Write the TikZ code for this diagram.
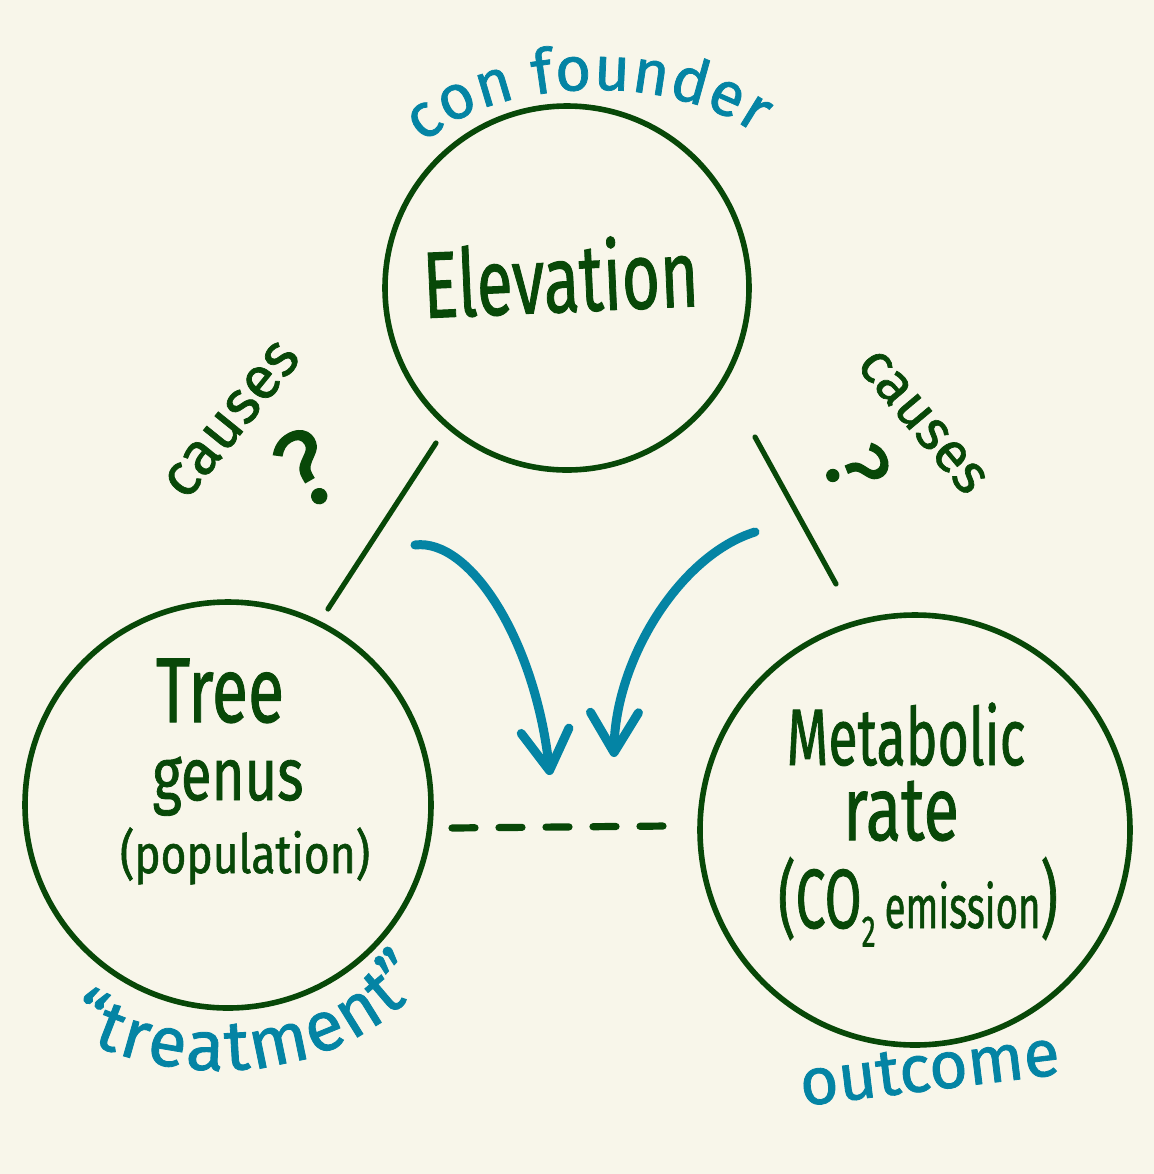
\documentclass[tikz,border=0pt]{standalone}
\usepackage{fontspec}
\setmainfont{Fira Sans}[FakeBold=1.2]
\usepackage{graphicx}
\usetikzlibrary{arrows.meta,decorations.text}
\definecolor{bgc}{RGB}{248,246,234}
\definecolor{hgreen}{RGB}{8,72,8}
\definecolor{hblue}{RGB}{4,132,164}
\tikzset{
 ring/.style={circle, draw=hgreen, line width=2.8pt, inner sep=0pt},
 gtext/.style={text=hgreen, inner sep=0pt, anchor=base},
 btext/.style={text=hblue, inner sep=0pt, anchor=base},
 link/.style={draw=hgreen, line width=2.6pt, line cap=round},
 dashlink/.style={draw=hgreen, line width=3.6pt, line cap=round, dash pattern=on 11.5pt off 12pt},
 bluearrow/.style={draw=hblue, line width=4.5pt, line cap=round, line join=round, -{Straight Barb[length=20pt,width=24pt,round]}},
}
\begin{document}
\begin{tikzpicture}[x=0.5pt,y=-0.5pt]
\fill[bgc] (0,0) rectangle (1154,1174);
\useasboundingbox (0,0) rectangle (1154,1174);

% circles
\node[ring, minimum size=182pt] (elev) at (567,288) {};
\node[ring, minimum size=203pt] (tree) at (228,805) {};
\node[ring, minimum size=215pt] (meta) at (915,830) {};

% labels in circles
\node[gtext, rotate=2.5, xscale=0.7, font=\fontsize{47}{50}\selectfont] (elevlbl) at (562,312) {Elevation};
\node[gtext, xscale=0.72, font=\fontsize{46}{50}\selectfont] (treel1) at (220,722) {Tree};
\node[gtext, xscale=0.76, font=\fontsize{37}{40}\selectfont] (treel2) at (228,800) {genus};
\node[gtext, xscale=0.82, font=\fontsize{27}{30}\selectfont] (treel3) at (245,873) {(population)};
\node[gtext, xscale=0.67, font=\fontsize{40}{44}\selectfont] (metal1) at (906,765) {Metabolic};
\node[gtext, xscale=0.72, font=\fontsize{45}{48}\selectfont] (metal2) at (901,840) {rate};
\node[gtext, xscale=0.64, font=\fontsize{42}{46}\selectfont] (metal3) at (918,928) {(CO\raisebox{-0.22em}{\fontsize{22}{24}\selectfont 2}\,{\fontsize{30}{34}\selectfont emission})};

% side annotations
\node[gtext, anchor=center, rotate=51, font=\fontsize{30}{34}\selectfont] (cause1) at (232,420) {causes};
\node[gtext, anchor=center, rotate=30, font=\fontsize{54}{58}\selectfont] (q1) at (306,468) {?};
\node[gtext, anchor=center, rotate=-50, font=\fontsize{28}{32}\selectfont] (cause2) at (922,422) {causes};
\node[gtext, anchor=center, rotate=-68, font=\fontsize{44}{48}\selectfont] (q2) at (857,468) {?};

% blue annotations
\node[btext, rotate=7, font=\fontsize{33}{36}\selectfont] (outc) at (932,1090) {outcome};
\path[decorate, decoration={text along path, text align=fit to path,
  text={|\fontsize{31}{36}\selectfont\color{hblue}|con founder}}]
  (424,144) .. controls (485,82) and (660,66) .. (756,134);
\path[decorate, decoration={text along path, text align=fit to path,
  text={|\fontsize{35}{38}\selectfont\color{hblue}|“treatment”}}]
  (64,1030) .. controls (170,1092) and (340,1088) .. (428,978);

% connectors
\coordinate (l1a) at (436,443);
\coordinate (l1b) at (328,609);
\coordinate (l2a) at (755,437);
\coordinate (l2b) at (836,584);
\draw[link] (l1a) -- (l1b);
\draw[link] (l2a) -- (l2b);
\coordinate (d1) at (452,828);
\coordinate (d2) at (668,826);
\draw[dashlink] (d1) -- (d2);

\coordinate (a1s) at (415,545);
\coordinate (a1e) at (550,775);
\coordinate (a2s) at (755,532);
\coordinate (a2e) at (614,757);
\draw[bluearrow] (a1s) .. controls (470,538) and (535,640) .. (a1e);
\draw[bluearrow] (a2s) .. controls (680,555) and (615,660) .. (a2e);
\end{tikzpicture}
\end{document}
